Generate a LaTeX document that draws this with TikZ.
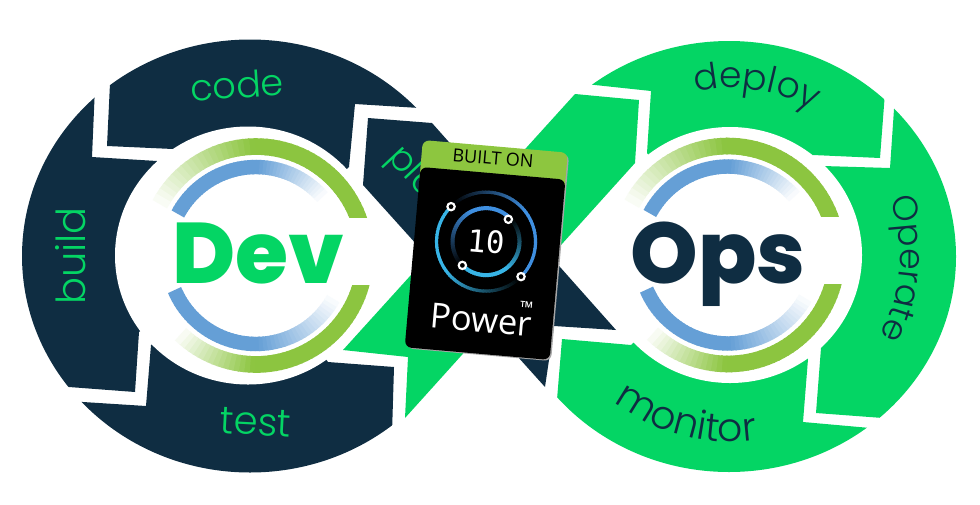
\documentclass[tikz,border=0pt]{standalone}
\usepackage{fontspec}
\usepackage{xcolor}
\usetikzlibrary{decorations.text}
\newfontfamily\titlefont[UprightFont=* ExtraBold]{Poppins}
\newfontfamily\labelfont[UprightFont=* Light]{Poppins}
\newfontfamily\cardfont{Open Sans}
\newfontfamily\numfont{DejaVu Sans Mono}
\definecolor{navyblue}{HTML}{0F2D42}
\definecolor{brightgreen}{HTML}{04D564}
\definecolor{ringgreen}{HTML}{8CC540}
\definecolor{ringblue}{HTML}{659FD6}
\definecolor{cardgreen}{HTML}{8DC63F}
\definecolor{dialcyan}{HTML}{38B4E6}
\definecolor{dialblue}{HTML}{3F8FE0}
% arc drawn in small pieces: cx, cy, r, start, end of solid part, end of fade, colour, fade colour, width
\newcommand{\fadearc}[9]{
    \foreach \i in {1,...,48}{
        \pgfmathsetmacro{\angA}{#4+(#6-#4)*(\i-1)/48}
        \pgfmathsetmacro{\angB}{#4+(#6-#4)*(\i+0.3)/48}
        \pgfmathsetmacro{\mixval}{max(0,min(100,100*((#6-\angA)/(#6-#5))))}
        \draw[line width=#9, color={#7!\mixval!#8}] ({#1+#3*cos(\angA)},{#2-#3*sin(\angA)}) -- ({#1+#3*cos(\angB)},{#2-#3*sin(\angB)});
    }
}
% the four rings round Dev and Ops
\newcommand{\ringset}[2]{
    \begin{scope}
        \clip (#1-120,#2-125) rectangle (#1+125,#2-38.5);
        \fadearc{#1}{#2}{109}{5}{90}{151}{ringgreen}{white}{12.5pt}
    \end{scope}
    \begin{scope}
        \clip (#1-120,#2+29.5) rectangle (#1+125,#2+125);
        \fadearc{#1}{#2}{109}{-5}{-90}{-133}{ringgreen}{white}{12.5pt}
    \end{scope}
    \fadearc{#1}{#2}{88.5}{152}{90}{42}{ringblue}{white}{10.8pt}
    \fadearc{#1}{#2}{88.5}{203}{270}{330}{ringblue}{white}{10.8pt}
}
\begin{document}
\begin{tikzpicture}[x=0.75pt,y=-0.75pt]
    % --- Styles ---
    \tikzstyle{devseg}=[fill=navyblue]
    \tikzstyle{opsseg}=[fill=brightgreen]
    \tikzstyle{hubtext}=[font=\titlefont\fontsize{64.5}{64.5}\selectfont, anchor=base, inner sep=0pt]
    \tikzstyle{devword}=[color=brightgreen, anchor=base, inner sep=0pt]
    \tikzstyle{carddot}=[circle, draw=white, fill=black, line width=1.6pt, inner sep=0pt, minimum size=5.5pt]
    \useasboundingbox (0,0) rectangle (980,504);

    % --- 1. Dev loop ---
    \begin{scope}
        \clip (250,256) ellipse [x radius=228, y radius=216.5];
        \fill[devseg] (107,146) -- (114,0) -- (500,0) -- (500,113) -- (355,104) -- (349,167) -- (250,255) -- (173,149) -- cycle;
        \fill[devseg] (97,40) -- (92,157) -- (157,161) -- (250,255) -- (139,332) -- (135,392) -- (69,387) -- (0,382) -- (0,40) -- cycle;
        \fill[devseg] (146,406) -- (20,398) -- (20,500) -- (390,500) -- (394,367) -- (328,362) -- (250,255) -- (151,345) -- cycle;
    \end{scope}
    \fill[white] (248,255.5) ellipse [x radius=133, y radius=129];

    % --- 2. Ops loop ---
    \begin{scope}
        \clip (729,256.5) ellipse [x radius=227, y radius=215.5];
        \fill[opsseg] (651,91) -- (520,77) -- (520,0) -- (892,0) -- (880,158) -- (813,155) -- (730,255) -- (647,153) -- cycle;
        \fill[opsseg] (890,168) -- (898,50) -- (990,50) -- (990,426) -- (816,413) -- (821,348) -- (730,255) -- (823,166) -- cycle;
        \fill[opsseg] (562,339) -- (631,345) -- (730,255) -- (808,359) -- (803,422) -- (960,436) -- (960,500) -- (552,460) -- cycle;
    \end{scope}
    \fill[white] (730,255) ellipse [x radius=132, y radius=128];

    % --- 3. Crossing bands ---
    \fill[devseg] (368,118) -- (432,123) -- (616,330) -- (554,326) -- (545,387) -- (363,185) -- cycle;
    \fill[opsseg] (575,94) -- (639,100) -- (635,163) -- (405,418) -- (408,357) -- (343,350) -- cycle;

    % --- 4. Rings and hub words ---
    \ringset{256}{255.5}
    \ringset{728}{255}
    \node[hubtext, color=brightgreen] (dev) at (258,283.5) {Dev};
    \node[hubtext, color=navyblue] (ops) at (718,283.5) {Ops};

    % --- 5. Segment words ---
    \node[devword, font=\labelfont\fontsize{27.5}{27.5}\selectfont, rotate=4] (code) at (238,98) {code};
    \node[devword, font=\labelfont\fontsize{30}{30}\selectfont, rotate=90] (build) at (85,256) {build};
    \node[devword, font=\labelfont\fontsize{29}{29}\selectfont, rotate=-3] (test) at (255,435) {test};
    \node[devword, font=\labelfont\fontsize{27}{27}\selectfont, rotate=-47, anchor=base west] (plan) at (386,158) {plan};
    \path[decorate, decoration={text along path, text align=center, text color=navyblue,
        text={|\labelfont\fontsize{27}{27}\selectfont|deploy}}]
        plot[domain=102:60, samples=30] ({730+167*cos(\x)},{255-167*sin(\x)});
    \path[decorate, decoration={text along path, text align=center, text color=navyblue,
        text={|\labelfont\fontsize{26}{26}\selectfont|Operate}}]
        plot[domain=24:-33, samples=30] ({730+170*cos(\x)},{255-170*sin(\x)});
    \path[decorate, decoration={text along path, text align=center, text color=navyblue,
        text={|\labelfont\fontsize{29.5}{29.5}\selectfont|monitor}}]
        plot[domain=228:282, samples=30] ({730+187*cos(\x)},{255-187*sin(\x)});

    % --- 6. Card ---
    \begin{scope}[shift={(486.5,250)}, rotate=-5]
        \fill[gray!70, rounded corners=5pt] (-71,-102.5) rectangle (74,105);
        \fill[cardgreen, rounded corners=5pt] (-73,-104) rectangle (72.5,-60);
        \fill[black, rounded corners=5pt] (-73,-77) rectangle (72.5,104);
        \node[font=\cardfont\fontsize{13.5}{13.5}\selectfont, color=black, rotate=-5, inner sep=0pt] (builton) at (-1.5,-92) {BUILT ON};
        \fadearc{-1.2}{-8.3}{49.5}{140}{220}{315}{dialcyan}{black}{2.4pt}
        \fadearc{-1.2}{-8.3}{49.5}{-40}{40}{135}{dialblue}{black}{2.4pt}
        \fadearc{-1.2}{-8.3}{33.5}{50}{120}{225}{dialblue}{black}{3pt}
        \fadearc{-1.2}{-8.3}{33.5}{230}{310}{405}{dialcyan}{black}{3pt}
        \node[carddot] (dota) at (-39.1,-40.1) {};
        \node[carddot] (dotb) at (36.7,23.5) {};
        \node[carddot] (dotc) at (19.1,-32.5) {};
        \node[carddot] (dotd) at (-22.7,17.4) {};
        \node[font=\numfont\fontsize{23}{23}\selectfont, color=white, rotate=-5, inner sep=0pt] (ten) at (-1.2,-8.3) {10};
        \node[font=\cardfont\fontsize{26}{26}\selectfont, color=white, rotate=-5, inner sep=0pt] (power) at (0.9,70) {Power};
        \node[font=\cardfont\fontsize{13}{13}\selectfont, color=white, rotate=-5, inner sep=0pt] (tm) at (45,54) {™};
    \end{scope}
\end{tikzpicture}
\end{document}
